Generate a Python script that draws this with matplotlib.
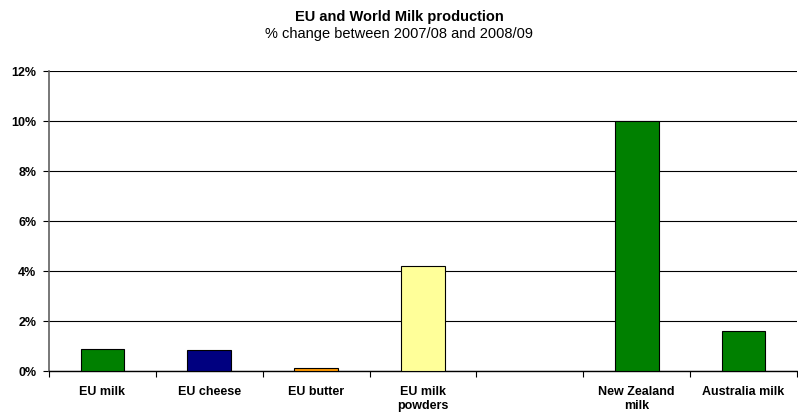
import numpy as np
import matplotlib
matplotlib.use("Agg")
import matplotlib.pyplot as plt

plt.rcParams['font.family'] = ['Liberation Sans', 'DejaVu Sans']

categories = ["EU milk", "EU cheese", "EU butter", "EU milk\npowders", "",
              "New Zealand\nmilk", "Australia milk"]
values = [0.87, 0.83, 0.13, 4.2, np.nan, 10.0, 1.6]
colors = ["#008000", "#000080", "#FF9900", "#FFFF99", "#FFFFFF", "#008000", "#008000"]

fig = plt.figure(figsize=(7.98, 4.12), dpi=100)
ax = fig.add_axes([49 / 798, 1 - 371 / 412, 748 / 798, 300 / 412])

x = np.arange(len(categories))
ax.bar(x, values, width=0.41, color=colors, edgecolor="black", linewidth=0.8, zorder=3)

ax.set_xlim(-0.5, len(categories) - 0.5)
ax.set_ylim(0, 12)
ax.set_yticks(np.arange(0, 13, 2))
ax.set_yticklabels([f"{v}%" for v in range(0, 13, 2)], fontsize=9, fontweight="bold")
ax.yaxis.grid(True, color="black", linewidth=0.8, zorder=0)

ax.set_xticks(x)
ax.set_xticklabels(categories, fontsize=9, fontweight="bold", linespacing=1.15)
ax.tick_params(axis="x", length=0, pad=11)
ax.set_xticks(np.arange(-0.5, len(categories)), minor=True)
ax.tick_params(axis="x", which="minor", length=4, width=0.8, color="black")
ax.tick_params(axis="y", length=4, width=0.8, pad=5)

ax.spines["top"].set_visible(False)
ax.spines["right"].set_visible(False)
ax.spines["left"].set_color("#606060")
ax.spines["left"].set_linewidth(1.2)
ax.spines["bottom"].set_linewidth(1.0)

fig.text(0.5, 1 - 17 / 412, "EU and World Milk production", ha="center", va="center",
         fontsize=10.5, fontweight="bold")
fig.text(0.5, 1 - 34 / 412, "% change between 2007/08 and 2008/09", ha="center",
         va="center", fontsize=10.5)

fig.savefig("out.png", dpi=100)
